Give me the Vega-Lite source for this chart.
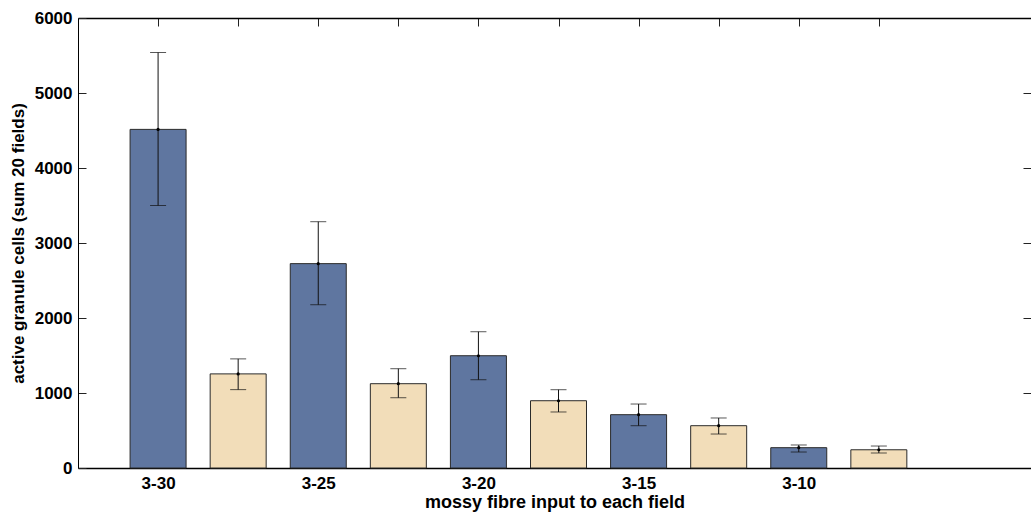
{
  "$schema": "https://vega.github.io/schema/vega-lite/v6.json",
  "width": 953,
  "height": 450,
  "autosize": {"type": "none"},
  "padding": {"left": 78, "top": 18, "right": 0, "bottom": 48},
  "background": "white",
  "config": {
    "view": {"stroke": null},
    "font": "Liberation Sans",
    "axis": {
      "labelFont": "Liberation Sans",
      "titleFont": "Liberation Sans",
      "labelFontWeight": "bold",
      "titleFontWeight": "bold",
      "labelFontSize": 17,
      "titleFontSize": 17,
      "labelColor": "black",
      "titleColor": "black",
      "domainColor": "black",
      "tickColor": "#222",
      "grid": false
    }
  },
  "data": {
    "values": [
      {"pos": 1, "series": "A", "mean": 4515, "lo": 3500, "hi": 5540},
      {"pos": 2, "series": "B", "mean": 1255, "lo": 1045, "hi": 1455},
      {"pos": 3, "series": "A", "mean": 2725, "lo": 2177, "hi": 3284},
      {"pos": 4, "series": "B", "mean": 1124, "lo": 937, "hi": 1324},
      {"pos": 5, "series": "A", "mean": 1497, "lo": 1177, "hi": 1817},
      {"pos": 6, "series": "B", "mean": 897, "lo": 747, "hi": 1044},
      {"pos": 7, "series": "A", "mean": 711, "lo": 564, "hi": 853},
      {"pos": 8, "series": "B", "mean": 564, "lo": 453, "hi": 667},
      {"pos": 9, "series": "A", "mean": 271, "lo": 213, "hi": 307},
      {"pos": 10, "series": "B", "mean": 243, "lo": 200, "hi": 293}
    ]
  },
  "resolve": {"axis": {"x": "independent", "y": "independent"}},
  "layer": [
    {
      "mark": {"type": "bar", "width": 56, "stroke": "#2a2a2a", "strokeWidth": 1},
      "encoding": {
        "x": {
          "field": "pos", "type": "quantitative",
          "scale": {"domain": [0, 11.9], "nice": false, "zero": false, "padding": 0},
          "axis": {
            "orient": "bottom",
            "title": "mossy fibre input to each field",
            "titleFontSize": 18,
            "values": [1, 3, 5, 7, 9],
            "labelExpr": "datum.value == 1 ? '3-30' : datum.value == 3 ? '3-25' : datum.value == 5 ? '3-20' : datum.value == 7 ? '3-15' : '3-10'",
            "ticks": false,
            "labelPadding": 7,
            "titlePadding": 2,
            "domainWidth": 1.5
          }
        },
        "y": {
          "field": "mean", "type": "quantitative",
          "scale": {"domain": [0, 6000], "nice": false, "padding": 0},
          "axis": {
            "orient": "left",
            "title": "active granule cells (sum 20 fields)",
            "values": [0, 1000, 2000, 3000, 4000, 5000, 6000],
            "format": "d",
            "tickSize": -8,
            "labelPadding": 14,
            "titlePadding": 7,
            "domainWidth": 1
          }
        },
        "color": {
          "field": "series", "type": "nominal",
          "scale": {"domain": ["A", "B"], "range": ["#5f76a0", "#f2ddb9"]},
          "legend": null
        }
      }
    },
    {
      "mark": {"type": "rule", "color": "#111", "strokeWidth": 1},
      "encoding": {
        "x": {
          "field": "pos", "type": "quantitative",
          "axis": {
            "orient": "top",
            "title": null,
            "labels": false,
            "values": [1, 2, 3, 4, 5, 6, 7, 8, 9, 10],
            "tickSize": -8,
            "domainWidth": 1.5
          }
        },
        "y": {
          "field": "lo", "type": "quantitative",
          "axis": {
            "orient": "right",
            "title": null,
            "labels": false,
            "domain": false,
            "values": [1000, 2000, 3000, 4000, 5000],
            "tickSize": -8
          }
        },
        "y2": {"field": "hi"}
      }
    },
    {
      "mark": {"type": "tick", "orient": "horizontal", "color": "#111", "size": 16, "thickness": 1},
      "encoding": {
        "x": {"field": "pos", "type": "quantitative", "axis": null},
        "y": {"field": "lo", "type": "quantitative", "axis": null}
      }
    },
    {
      "mark": {"type": "tick", "orient": "horizontal", "color": "#111", "size": 16, "thickness": 1},
      "encoding": {
        "x": {"field": "pos", "type": "quantitative", "axis": null},
        "y": {"field": "hi", "type": "quantitative", "axis": null}
      }
    },
    {
      "mark": {"type": "point", "filled": true, "color": "black", "size": 10, "opacity": 1},
      "encoding": {
        "x": {"field": "pos", "type": "quantitative", "axis": null},
        "y": {"field": "mean", "type": "quantitative", "axis": null}
      }
    }
  ]
}
